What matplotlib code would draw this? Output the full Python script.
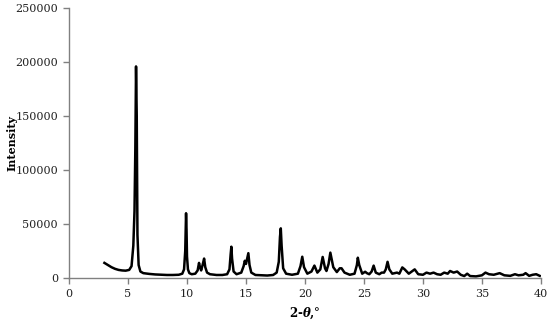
import matplotlib
matplotlib.use('Agg')
import matplotlib.pyplot as plt

# powder pattern (2-theta in degrees, counts)
two_theta = [3.0, 3.3, 3.6, 3.9, 4.2, 4.5, 4.8, 5.1, 5.3, 5.45, 5.55, 5.62, 5.68, 5.74,
             5.8, 5.9, 6.05, 6.3, 6.8, 7.3, 7.8, 8.3, 8.8, 9.3, 9.6, 9.75, 9.85, 9.92,
             9.96, 10.0, 10.08, 10.2, 10.4, 10.7, 10.9, 11.02, 11.1, 11.2, 11.32, 11.45,
             11.55, 11.7, 11.95, 12.5, 13.0, 13.4, 13.6, 13.7, 13.76, 13.82, 13.95, 14.2,
             14.6, 14.8, 14.9, 15.0, 15.08, 15.2, 15.3, 15.45, 15.8, 16.3, 16.8, 17.3,
             17.6, 17.78, 17.88, 17.95, 18.02, 18.15, 18.4, 18.9, 19.4, 19.62, 19.77,
             19.92, 20.2, 20.55, 20.8, 21.05, 21.3, 21.5, 21.7, 21.82, 22.0, 22.15, 22.4,
             22.7, 22.95, 23.1, 23.35, 23.8, 24.2, 24.4, 24.48, 24.6, 24.85, 25.1, 25.25,
             25.45, 25.65, 25.82, 26.0, 26.3, 26.5, 26.7, 26.85, 27.0, 27.15, 27.4, 27.8,
             28.0, 28.25, 28.45, 28.8, 29.3, 29.6, 30.0, 30.3, 30.6, 30.9, 31.2, 31.5,
             31.8, 32.1, 32.3, 32.6, 32.9, 33.2, 33.5, 33.75, 34.0, 34.5, 35.0, 35.3,
             35.6, 36.0, 36.5, 36.9, 37.4, 37.8, 38.1, 38.5, 38.7, 39.0, 39.3, 39.6, 39.9]
intensity = [14000, 12000, 10000, 8500, 7500, 7000, 6800, 7500, 11000, 30000, 62000, 120000,
             196000, 150000, 40000, 12000, 6000, 4500, 3800, 3300, 3000, 2800, 2800, 3000,
             4000, 8000, 25000, 60000, 45000, 20000, 8000, 4500, 3500, 4000, 7000, 14000,
             10000, 7000, 12000, 18000, 10000, 5000, 3500, 2800, 2800, 3500, 8000, 22000,
             29000, 18000, 6000, 3500, 5000, 11000, 16000, 13000, 17000, 23000, 12000, 5000,
             2800, 2500, 2300, 2800, 5000, 15000, 38000, 46000, 30000, 9000, 4000, 3000,
             4000, 11000, 19700, 10000, 4000, 6000, 11500, 5000, 8000, 19500, 9000, 6500,
             13000, 23500, 10000, 5500, 9000, 9000, 5000, 3000, 4000, 12000, 18800, 12000,
             4000, 5800, 4500, 3500, 6000, 11500, 5000, 3500, 5000, 5000, 8000, 15000, 8000,
             4000, 5000, 4000, 9800, 8000, 4000, 8000, 3500, 3000, 5000, 4000, 5000, 3500,
             3000, 5000, 4000, 6500, 5000, 6000, 3000, 1800, 4000, 1800, 1500, 2500, 5000,
             3500, 3000, 4500, 2500, 2000, 3500, 2500, 3000, 4500, 2000, 3000, 3500, 2000]

x_ticks = [0, 5, 10, 15, 20, 25, 30, 35, 40]
y_ticks = [0, 50000, 100000, 150000, 200000, 250000]

plt.rcParams['font.family'] = ['DejaVu Serif']
plt.rcParams['mathtext.fontset'] = 'dejavuserif'

fig = plt.figure(figsize=(5.5, 3.25), dpi=100)
ax = fig.add_axes([0.1255, 0.1446, 0.858, 0.8304])
ax.plot(two_theta, intensity, color='black', lw=1.8, solid_joinstyle='round')

ax.set_xlim(0, 40)
ax.set_ylim(0, 250000)
ax.set_xticks(x_ticks)
ax.set_yticks(y_ticks)
for s in ['top', 'right']:
    ax.spines[s].set_visible(False)
for s in ['left', 'bottom']:
    ax.spines[s].set_color('#808080')
    ax.spines[s].set_linewidth(1.0)
ax.tick_params(direction='out', length=4, width=1.0, color='#808080',
               labelsize=8, labelcolor='#222222', pad=4)

ax.set_ylabel('Intensity', fontsize=8, fontweight='bold')
ax.yaxis.set_label_coords(-0.11, 0.5)
ax.set_xlabel(r'2-$\mathbfit{\theta}$,°', fontsize=8.5, fontweight='bold', labelpad=5)

fig.savefig('out.png', dpi=100)
